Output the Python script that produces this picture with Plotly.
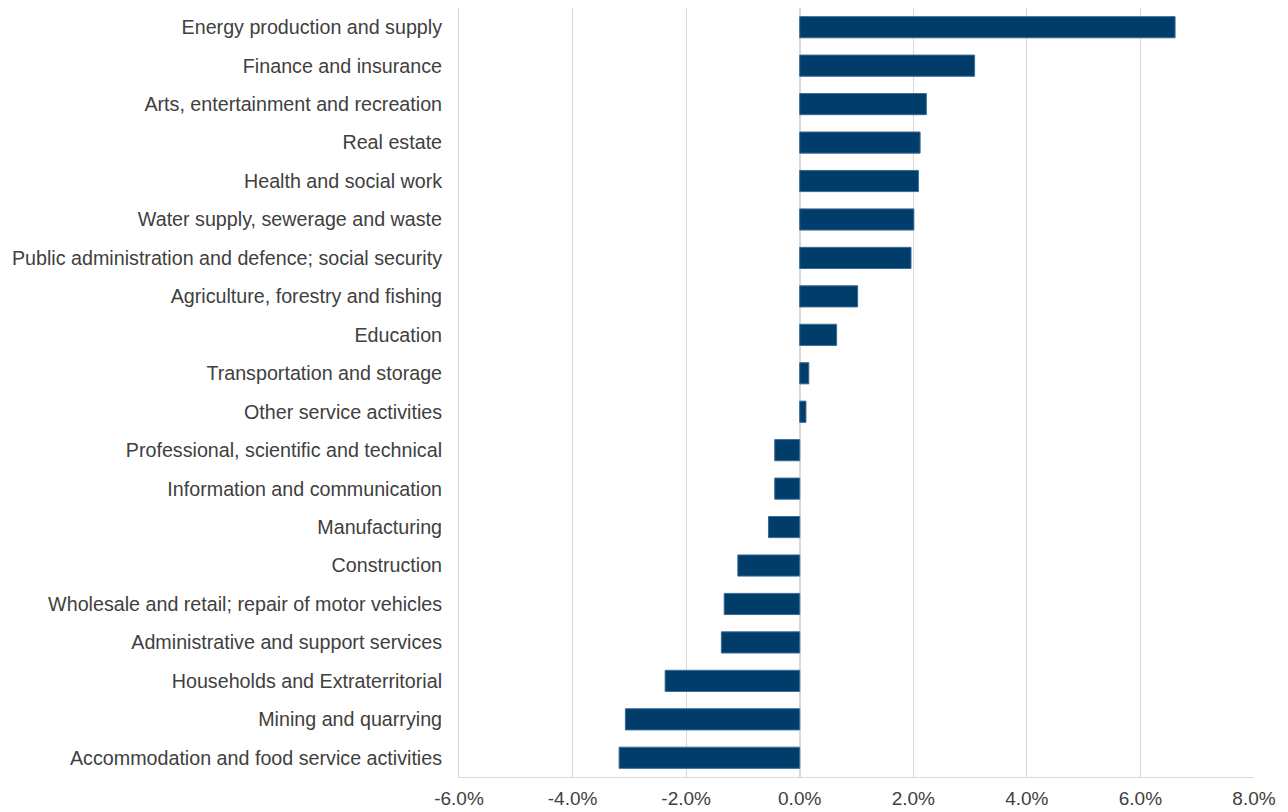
import plotly.graph_objects as go

categories = [
    "Energy production and supply",
    "Finance and insurance",
    "Arts, entertainment and recreation",
    "Real estate",
    "Health and social work",
    "Water supply, sewerage and waste",
    "Public administration and defence; social security",
    "Agriculture, forestry and fishing",
    "Education",
    "Transportation and storage",
    "Other service activities",
    "Professional, scientific and technical",
    "Information and communication",
    "Manufacturing",
    "Construction",
    "Wholesale and retail; repair of motor vehicles",
    "Administrative and support services",
    "Households and Extraterritorial",
    "Mining and quarrying",
    "Accommodation and food service activities",
]
values = [0.0661, 0.0308, 0.0223, 0.0212, 0.0209, 0.0201, 0.0196, 0.0102, 0.0065,
          0.0016, 0.0011, -0.0044, -0.0044, -0.0055, -0.0109, -0.0133, -0.0138,
          -0.0237, -0.0307, -0.0318]
tick_vals = [-0.06, -0.04, -0.02, 0.0, 0.02, 0.04, 0.06, 0.08]
tick_text = ["-6.0%", "-4.0%", "-2.0%", "0.0%", "2.0%", "4.0%", "6.0%", "8.0%"]

fig = go.Figure(go.Bar(
    x=values, y=categories, orientation="h",
    marker=dict(color="#003d6b", line=dict(color="#3a6a94", width=1)),
))

font_family = "Liberation Sans, Arial, sans-serif"
fig.update_layout(
    width=1280, height=804,
    margin=dict(l=451, r=34, t=0, b=35),
    paper_bgcolor="white", plot_bgcolor="white",
    showlegend=False,
    font=dict(family=font_family, size=19.7, color="#404040"),
    bargap=0.45,
)
fig.update_xaxes(
    range=[-0.06, 0.08], tickvals=tick_vals, ticktext=tick_text,
    showgrid=True, gridcolor="#d9d9d9", gridwidth=1,
    zeroline=True, zerolinecolor="#d9d9d9", zerolinewidth=2,
    showline=True, linecolor="#d9d9d9", linewidth=1,
    ticks="", ticklabelstandoff=4, automargin=False,
    tickfont=dict(size=19, color="#404040"),
)
fig.update_yaxes(
    categoryorder="array", categoryarray=categories, autorange="reversed",
    showgrid=False, showline=True, linecolor="#d9d9d9", linewidth=1,
    ticks="", ticklabelstandoff=12, automargin=False,
    tickfont=dict(size=19.7, color="#404040"),
)

fig.write_html("out.html")
